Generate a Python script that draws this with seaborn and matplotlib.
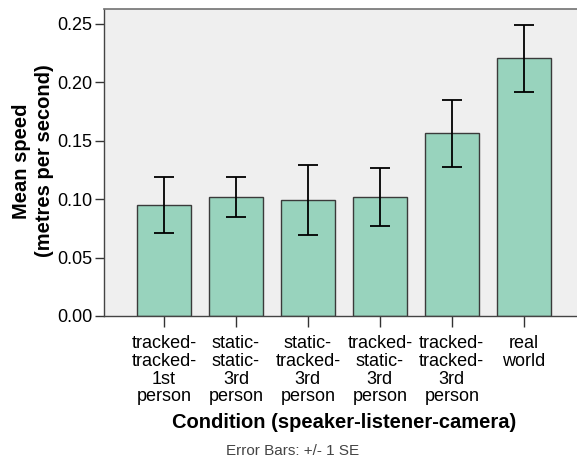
import matplotlib
matplotlib.use("Agg")
import matplotlib.pyplot as plt
import seaborn as sns
import pandas as pd

conditions = ["tracked-\ntracked-\n1st\nperson", "static-\nstatic-\n3rd\nperson",
              "static-\ntracked-\n3rd\nperson", "tracked-\nstatic-\n3rd\nperson",
              "tracked-\ntracked-\n3rd\nperson", "real\nworld\n\n"]
means = [0.0948, 0.1016, 0.0993, 0.1019, 0.1564, 0.2206]
ses = [0.0240, 0.0170, 0.0298, 0.0246, 0.0285, 0.0288]
yticks = [0.00, 0.05, 0.10, 0.15, 0.20, 0.25]

sns.set_theme(style="white")
plt.rcParams['font.family'] = ['Liberation Sans', 'DejaVu Sans']
plt.rcParams['text.color'] = 'black'
plt.rcParams['xtick.color'] = 'black'
plt.rcParams['ytick.color'] = 'black'

df = pd.DataFrame({"cond": conditions, "mean": means})

fig = plt.figure(figsize=(5.77, 4.66), dpi=100)
ax = fig.add_axes([104/577, 1 - 316/466, 1 - 104/577 + 0.01, (316 - 9)/466])
ax.set_facecolor("#efefef")

sns.barplot(data=df, x="cond", y="mean", color="#98d3bd", saturation=1,
            edgecolor="#3a3a3a", linewidth=1.0, width=0.75, errorbar=None, ax=ax)
ax.errorbar(range(len(means)), means, yerr=ses, fmt="none", ecolor="black",
            elinewidth=1.3, capsize=7.5, capthick=1.3)

ax.set_xlim(-0.833, 5.82)
ax.set_ylim(0, 0.2628)
ax.set_yticks(yticks)
ax.set_yticklabels([f"{v:.2f}" for v in yticks], fontsize=13)
ax.set_xticks(range(len(conditions)))
ax.set_xticklabels(conditions, fontsize=13, linespacing=1.05, va="top")
ax.tick_params(axis="x", direction="out", length=8, width=1, color="#333333", pad=6,
               bottom=True)
ax.tick_params(axis="y", direction="out", length=6.5, width=1, color="#333333", pad=2,
               left=True)

for s in ["left", "bottom"]:
    ax.spines[s].set_color("#444444")
    ax.spines[s].set_linewidth(1.0)
ax.spines["top"].set_color("#777777")
ax.spines["right"].set_visible(False)

ax.set_xlabel("")
ax.set_ylabel("")
fig.text(344/577, 1 - 422/466, "Condition (speaker-listener-camera)", fontsize=14.5,
         fontweight="bold", ha="center", va="center")
fig.text(33/577, 1 - 161/466, "Mean speed\n(metres per second)", fontsize=14.5,
         fontweight="bold", rotation=90, ha="center", va="center", linespacing=1.25,
         multialignment="center")

fig.text(293/577, 1 - 451/466, "Error Bars: +/- 1 SE", fontsize=11, color="#444444",
         ha="center", va="center")

fig.savefig("out.png", dpi=100, facecolor="white")
